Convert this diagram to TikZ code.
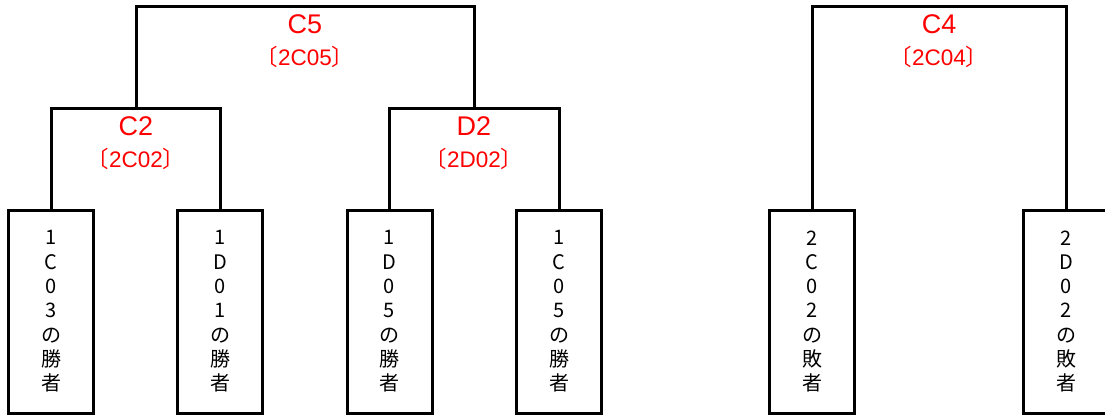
\documentclass[tikz,border=0pt]{standalone}
\usepackage{fontspec}
\setmainfont{Liberation Sans}
\newfontfamily\jpfont{Noto Sans CJK JP}
\usetikzlibrary{calc}
\colorlet{matchcol}{red}
\newcommand\mcodetext[1]{{\jpfont 〔}#1{\jpfont 〕}}
\tikzset{
  team/.style={draw,line width=3pt,minimum width=85pt,minimum height=203pt,
               inner sep=0pt,align=center,
               font=\jpfont\fontsize{20}{24.3}\selectfont},
  bracket/.style={line width=3pt},
  mtitle/.style={matchcol,inner sep=0pt,font=\fontsize{27}{30}\selectfont},
  mcode/.style={matchcol,inner sep=0pt,font=\fontsize{22.5}{24}\selectfont}}

\begin{document}
\begin{tikzpicture}[x=1pt,y=-1pt]
  \useasboundingbox (0,0) rectangle (1105,415);
  \def\by{311.5} % box centre
  \def\ty{18}    % title below line
  \def\cy{51}    % code below line
  \coordinate (C2) at (136,108);
  \coordinate (D2) at (474,108);
  \coordinate (C5) at (305,6);
  \coordinate (C4) at (939,6);

  % TEAMS
  \node[team] (t1) at (51,\by)    {1\\C\\0\\3\\の\\勝\\者};
  \node[team] (t2) at (220,\by)   {1\\D\\0\\1\\の\\勝\\者};
  \node[team] (t3) at (389.5,\by) {1\\D\\0\\5\\の\\勝\\者};
  \node[team] (t4) at (559,\by)   {1\\C\\0\\5\\の\\勝\\者};
  \node[team] (t5) at (812,\by)   {2\\C\\0\\2\\の\\敗\\者};
  \node[team] (t6) at (1066,\by)  {2\\D\\0\\2\\の\\敗\\者};

  % BRACKETS
  \draw[bracket] (t1.north) |- (C2) -| (t2.north);
  \draw[bracket] (t3.north) |- (D2) -| (t4.north);
  \draw[bracket] (C2) |- (C5) -| (D2);
  \draw[bracket] (t5.north) |- (C4) -| (t6.north);

  % MATCHES
  \node[mtitle] (C2t) at ($(C2)+(0,\ty)$) {C2};
  \node[mcode]  (C2c) at ($(C2)+(0,\cy)$) {\mcodetext{2C02}};
  \node[mtitle] (D2t) at ($(D2)+(0,\ty)$) {D2};
  \node[mcode]  (D2c) at ($(D2)+(0,\cy)$) {\mcodetext{2D02}};
  \node[mtitle] (C5t) at ($(C5)+(0,\ty)$) {C5};
  \node[mcode]  (C5c) at ($(C5)+(0,\cy)$) {\mcodetext{2C05}};
  \node[mtitle] (C4t) at ($(C4)+(0,\ty)$) {C4};
  \node[mcode]  (C4c) at ($(C4)+(0,\cy)$) {\mcodetext{2C04}};

\end{tikzpicture}
\end{document}
